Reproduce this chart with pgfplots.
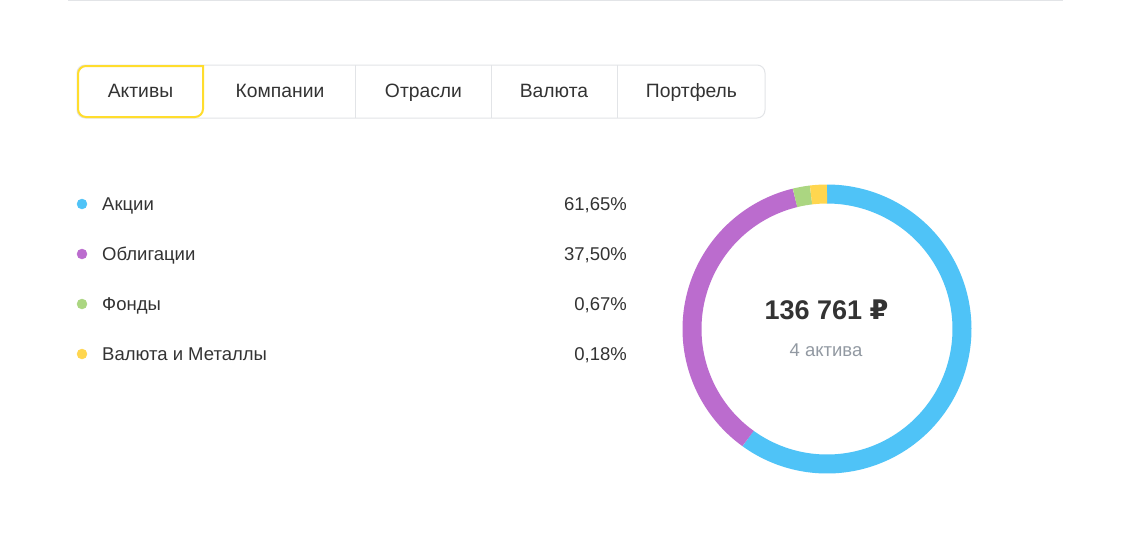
\documentclass[border=0pt]{standalone}
\usepackage{pgfplots}
\pgfplotsset{compat=1.18}
\usepackage{fontspec}
\setmainfont{Liberation Sans}
\newfontfamily\rubfont{DejaVu Sans}
\definecolor{cBlue}{RGB}{79,195,247}
\definecolor{cPurple}{RGB}{187,108,206}
\definecolor{cGreen}{RGB}{171,214,129}
\definecolor{cYellow}{RGB}{255,214,79}
\definecolor{tabYellow}{RGB}{255,221,45}
\definecolor{borderGray}{RGB}{226,228,231}
\definecolor{txt}{RGB}{51,51,51}
\definecolor{subtxt}{RGB}{146,153,162}
% Asset shares (%) and the sweep (degrees, clockwise from top) of each ring segment as drawn
% Akcii 61.65 -> 0..215.8 ; Obligacii 37.50 -> 215.8..346.3 ; Fondy 0.67 -> 346.3..353.2 ; Valyuta 0.18 -> 353.2..360
\begin{document}
\begin{tikzpicture}
\begin{axis}[
  width=1136pt, height=542pt, scale only axis,
  xmin=0, xmax=1136, ymin=0, ymax=542, y dir=reverse,
  axis lines=none, clip=false,
  axis background/.style={fill=white},
]
% top rule
\draw[borderGray, line width=1pt] (axis cs:68,0.5) -- (axis cs:1063,0.5);
% tab bar
\draw[borderGray, line width=1pt, rounded corners=8pt] (axis cs:77,65) rectangle (axis cs:765,118);
\draw[borderGray, line width=1pt] (axis cs:355,65) -- (axis cs:355,118);
\draw[borderGray, line width=1pt] (axis cs:491,65) -- (axis cs:491,118);
\draw[borderGray, line width=1pt] (axis cs:617,65) -- (axis cs:617,118);
\draw[tabYellow, line width=2pt, rounded corners=8pt] (axis cs:78,66) -- (axis cs:78,117) -- (axis cs:203,117)[sharp corners] -- (axis cs:203,66) [rounded corners=8pt]-- cycle;
\node[font=\fontsize{19.3}{22}\selectfont, text=txt, anchor=base, inner sep=0pt] at (axis cs:140.5,97.5) {Активы};
\node[font=\fontsize{19.3}{22}\selectfont, text=txt, anchor=base, inner sep=0pt] at (axis cs:280,97.5) {Компании};
\node[font=\fontsize{19.3}{22}\selectfont, text=txt, anchor=base, inner sep=0pt] at (axis cs:423.5,97.5) {Отрасли};
\node[font=\fontsize{19.3}{22}\selectfont, text=txt, anchor=base, inner sep=0pt] at (axis cs:554,97.5) {Валюта};
\node[font=\fontsize{19.3}{22}\selectfont, text=txt, anchor=base, inner sep=0pt] at (axis cs:691.5,97.5) {Портфель};

% legend dots
\addplot[only marks, mark=*, mark size=5pt, color=cBlue] coordinates {(82,204)};
\addplot[only marks, mark=*, mark size=5pt, color=cPurple] coordinates {(82,254)};
\addplot[only marks, mark=*, mark size=5pt, color=cGreen] coordinates {(82,304)};
\addplot[only marks, mark=*, mark size=5pt, color=cYellow] coordinates {(82,354)};
% legend labels
\node[font=\fontsize{18.5}{20}\selectfont, text=txt, anchor=base west, inner sep=0pt] at (axis cs:102,210.5) {Акции};
\node[font=\fontsize{18.5}{20}\selectfont, text=txt, anchor=base west, inner sep=0pt] at (axis cs:102,260.5) {Облигации};
\node[font=\fontsize{18.5}{20}\selectfont, text=txt, anchor=base west, inner sep=0pt] at (axis cs:102,310.5) {Фонды};
\node[font=\fontsize{18.5}{20}\selectfont, text=txt, anchor=base west, inner sep=0pt] at (axis cs:102,360.5) {Валюта и Металлы};
\node[font=\fontsize{18.5}{20}\selectfont, text=txt, anchor=base east, inner sep=0pt] at (axis cs:627,210.5) {61,65\%};
\node[font=\fontsize{18.5}{20}\selectfont, text=txt, anchor=base east, inner sep=0pt] at (axis cs:627,260.5) {37,50\%};
\node[font=\fontsize{18.5}{20}\selectfont, text=txt, anchor=base east, inner sep=0pt] at (axis cs:627,310.5) {0,67\%};
\node[font=\fontsize{18.5}{20}\selectfont, text=txt, anchor=base east, inner sep=0pt] at (axis cs:627,360.5) {0,18\%};

% donut ring (centre 827,329; mid radius 135; clockwise from top)
\addplot[cBlue, line width=19pt, line cap=butt, domain=0:215.8, samples=150, variable=\t, no markers] ({827+135*sin(t)}, {329-135*cos(t)});
\addplot[cPurple, line width=19pt, line cap=butt, domain=215.8:346.3, samples=100, variable=\t, no markers] ({827+135*sin(t)}, {329-135*cos(t)});
\addplot[cGreen, line width=19pt, line cap=butt, domain=346.3:353.2, samples=10, variable=\t, no markers] ({827+135*sin(t)}, {329-135*cos(t)});
\addplot[cYellow, line width=19pt, line cap=butt, domain=353.2:360, samples=10, variable=\t, no markers] ({827+135*sin(t)}, {329-135*cos(t)});

\node[font=\fontsize{27}{30}\selectfont\bfseries, text=txt, anchor=base, inner sep=0pt] at (axis cs:826.5,319.5) {136 761 {\rubfont ₽}};
\node[font=\fontsize{18.5}{20}\selectfont, text=subtxt, anchor=base, inner sep=0pt] at (axis cs:826,356) {4 актива};
\end{axis}
\end{tikzpicture}
\end{document}
